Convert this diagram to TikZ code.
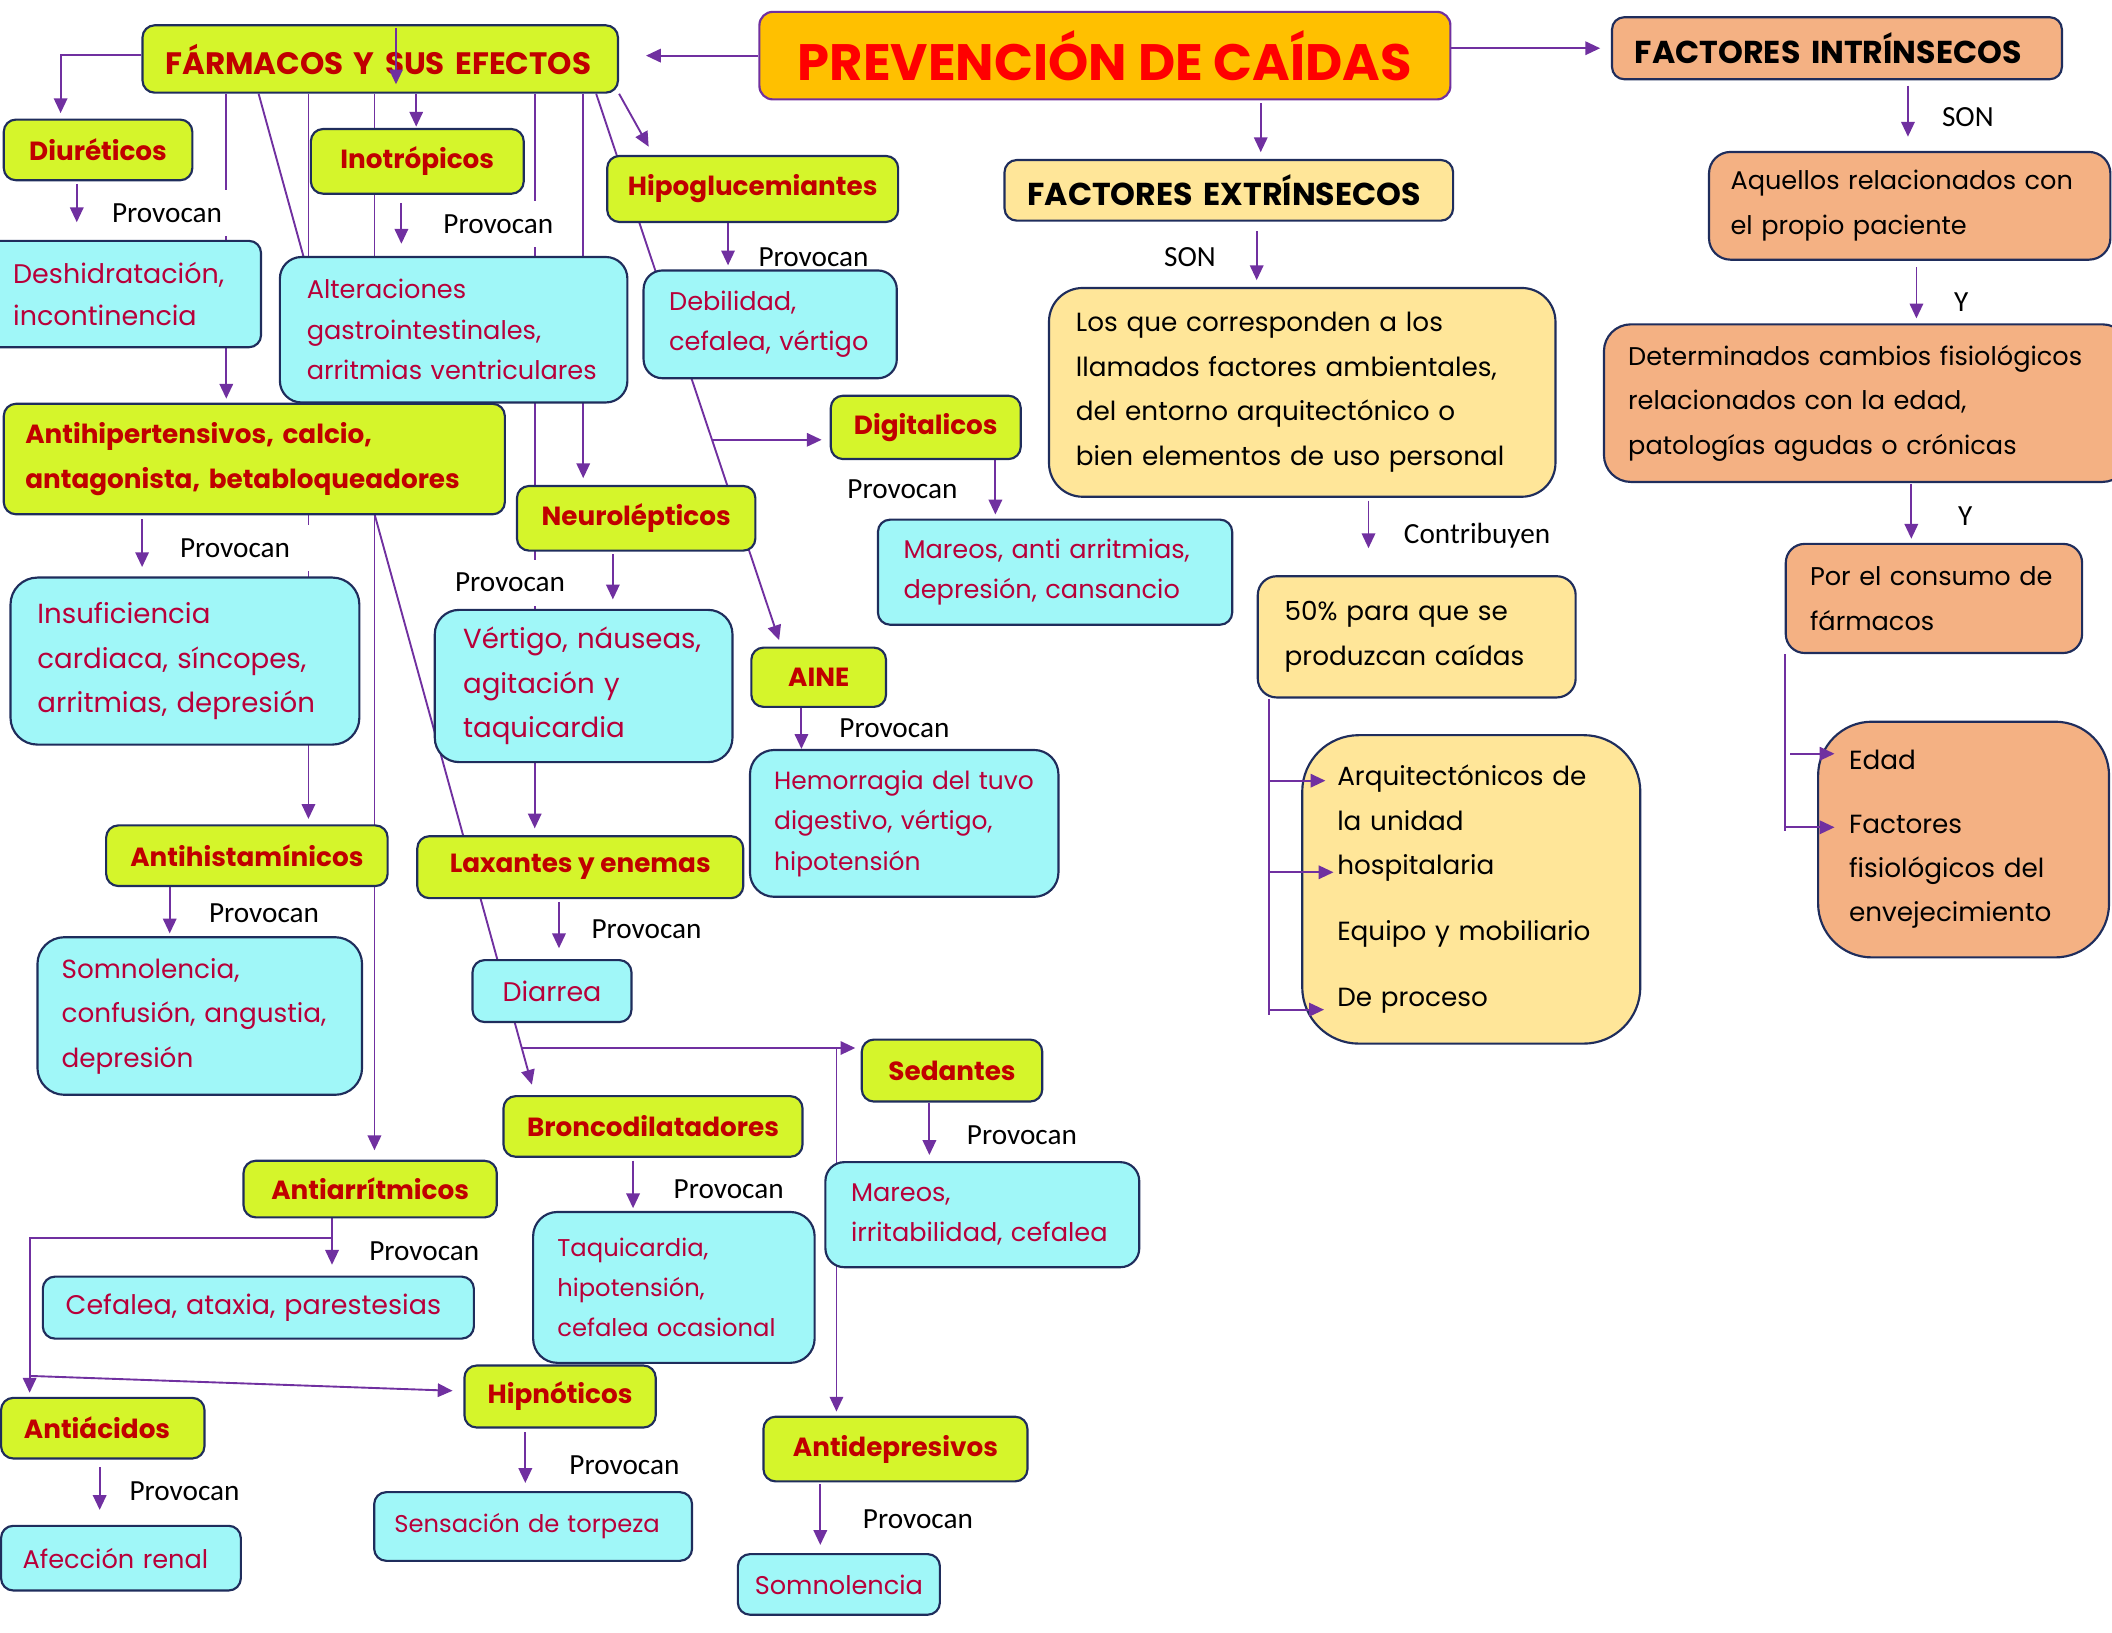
\documentclass[tikz,border=0pt]{standalone}
\usepackage{fontspec}
\newfontfamily\comic{Poppins}
\newfontfamily\calib{Carlito}
\usetikzlibrary{arrows.meta,backgrounds,calc}
\definecolor{morado}{HTML}{7030A0}
\definecolor{marino}{HTML}{1F2D5C}
\definecolor{verde}{HTML}{D5F52B}
\definecolor{cian}{HTML}{A0F7F8}
\definecolor{naranja}{HTML}{FFC000}
\definecolor{crema}{HTML}{FFE699}
\definecolor{salmon}{HTML}{F4B183}
\definecolor{granate}{HTML}{C00000}
\definecolor{carmin}{HTML}{B8003A}
\definecolor{titulo}{HTML}{FF0000}
\hyphenpenalty=10000

\begin{document}
\begin{tikzpicture}[x=1pt,y=-1pt,
  caja/.style={draw=marino,line width=1.6pt,rounded corners=9pt,anchor=north west,inner ysep=0pt},
  farmaco/.style={caja,fill=verde,text=granate,align=center,inner xsep=0pt,
    font=\comic\bfseries\fontsize{19.5}{33}\selectfont},
  efecto/.style={caja,fill=cian,text=carmin,align=left,font=\comic\fontsize{20}{31}\selectfont},
  extrin/.style={caja,fill=crema,align=left,font=\comic\fontsize{19.5}{33}\selectfont},
  intrin/.style={caja,fill=salmon,align=left,font=\comic\fontsize{19}{33}\selectfont},
  etiqueta/.style={fill=white,inner xsep=8pt,inner ysep=10pt,font=\calib\fontsize{21.7}{24}\selectfont},
  conector/.style={draw=morado,line width=1.4pt},
  flecha/.style={conector,-{Triangle[length=11pt,width=10pt]}}]
\useasboundingbox (0,0) rectangle (1568,1212);

% etiquetas de los conectores
\node[etiqueta] (pdiu) at (124,158) {Provocan};
\node[etiqueta] (pino) at (370,166.5) {Provocan};
\node[etiqueta] (phip) at (604,191) {Provocan};
\node[etiqueta,minimum width=112pt] (pant) at (174.5,407) {Provocan};
\node[etiqueta] (pneu) at (378.7,432.5) {Provocan};
\node[etiqueta] (pdig) at (670,363) {Provocan};
\node[etiqueta] (pain) at (664,541) {Provocan};
\node[etiqueta] (pahi) at (196,678) {Provocan};
\node[etiqueta] (plax) at (480,690) {Provocan};
\node[etiqueta] (psed) at (758.7,843) {Provocan};
\node[etiqueta] (pbro) at (541,883) {Provocan};
\node[etiqueta] (parr) at (315,928.6) {Provocan};
\node[etiqueta] (pacd) at (137,1107) {Provocan};
\node[etiqueta] (phpn) at (463.6,1088) {Provocan};
\node[etiqueta] (pdep) at (681.5,1128) {Provocan};
\node[etiqueta] (son1) at (883.5,190.6) {SON};
\node[etiqueta] (son2) at (1461,86.6) {SON};
\node[etiqueta] (y1) at (1456,224) {Y};
\node[etiqueta] (y2) at (1459,383) {Y};
\node[etiqueta] (contr) at (1096.6,398) {Contribuyen};

% cabeceras
\node[caja,draw=morado,fill=naranja,text=titulo,minimum width=513pt,minimum height=65pt,rounded corners=10pt,
  font=\comic\bfseries\fontsize{38}{42}\selectfont] (prev) at (563,8) {PREVENCIÓN DE CAÍDAS};
\node[farmaco,align=left,text width=319pt,inner xsep=17pt,minimum height=50pt,
  font=\comic\bfseries\fontsize{23}{30}\selectfont] (farm) at (105,18) {FÁRMACOS Y SUS EFECTOS};
\node[intrin,text width=300pt,inner xsep=17pt,minimum height=46pt,
  font=\comic\bfseries\fontsize{23.5}{30}\selectfont] (intr) at (1196,12) {FACTORES INTRÍNSECOS};
\node[extrin,text width=299pt,inner xsep=17pt,minimum height=45pt,
  font=\comic\bfseries\fontsize{23.5}{30}\selectfont] (extr) at (745,118) {FACTORES EXTRÍNSECOS};

% farmacos
\node[farmaco,minimum width=140pt,minimum height=45pt] (diur) at (2,88) {Diuréticos};
\node[farmaco,minimum width=158pt,minimum height=48pt] (inot) at (230,95) {Inotrópicos};
\node[farmaco,minimum width=216pt,minimum height=49pt] (hipo) at (450,115) {Hipoglucemiantes};
\node[farmaco,align=left,text width=340pt,inner xsep=16pt,minimum height=82pt] (antihip) at (2,299)
  {Antihipertensivos, calcio,\\antagonista, betabloqueadores};
\node[farmaco,minimum width=141pt,minimum height=47pt] (digi) at (616,293) {Digitalicos};
\node[farmaco,minimum width=177pt,minimum height=48pt] (neuro) at (383,360) {Neurolépticos};
\node[farmaco,minimum width=100pt,minimum height=44pt] (aine) at (557,480) {AINE};
\node[farmaco,minimum width=209pt,minimum height=45pt] (antihis) at (78,612) {Antihistamínicos};
\node[farmaco,minimum width=242pt,minimum height=46pt] (laxa) at (309,620) {Laxantes y enemas};
\node[farmaco,minimum width=134pt,minimum height=46pt] (seda) at (639,771) {Sedantes};
\node[farmaco,minimum width=222pt,minimum height=45pt] (bronc) at (373,813) {Broncodilatadores};
\node[farmaco,minimum width=188pt,minimum height=42pt] (antiarr) at (180,861) {Antiarrítmicos};
\node[farmaco,minimum width=142pt,minimum height=46pt] (hipn) at (344,1013) {Hipnóticos};
\node[farmaco,align=left,text width=117pt,inner xsep=17pt,minimum height=45pt] (antiac) at (0,1037) {Antiácidos};
\node[farmaco,minimum width=196pt,minimum height=48pt] (antidep) at (566,1051) {Antidepresivos};

% efectos
\node[efecto,text width=165pt,inner xsep=19pt,minimum height=79pt] (desh) at (-10,178)
  {Deshidratación,\\incontinencia};
\node[efecto,text width=218pt,inner xsep=20pt,minimum height=108pt,rounded corners=16pt,
  font=\comic\fontsize{19}{30}\selectfont] (alt) at (207,190)
  {Alteraciones\\gastrointestinales,\\arritmias ventriculares};
\node[efecto,text width=150pt,inner xsep=19pt,minimum height=80pt,rounded corners=14pt,
  font=\comic\fontsize{19}{30}\selectfont] (debi) at (477,200) {Debilidad,\\cefalea, vértigo};
\node[efecto,text width=225pt,inner xsep=19pt,minimum height=78pt,
  font=\comic\fontsize{19}{30}\selectfont] (mare) at (651,385) {Mareos, anti arritmias,\\depresión, cansancio};
\node[efecto,text width=219pt,inner xsep=20pt,minimum height=124pt,rounded corners=20pt,
  font=\comic\fontsize{20.5}{33}\selectfont] (insu) at (7,428)
  {Insuficiencia\\cardiaca, síncopes,\\arritmias, depresión};
\node[efecto,text width=179pt,inner xsep=21pt,minimum height=113pt,rounded corners=18pt,
  font=\comic\fontsize{20.5}{33}\selectfont] (vert) at (322,452) {Vértigo, náuseas,\\agitación y\\taquicardia};
\node[efecto,text width=193pt,inner xsep=18pt,minimum height=109pt,rounded corners=18pt,
  font=\comic\fontsize{18.5}{30}\selectfont] (hemo) at (556,556)
  {Hemorragia del tuvo\\digestivo, vértigo,\\hipotensión};
\node[efecto,text width=205pt,inner xsep=18pt,minimum height=117pt,rounded corners=20pt,
  font=\comic\fontsize{19.5}{33}\selectfont] (somn) at (27,695) {Somnolencia,\\confusión, angustia,\\depresión};
\node[efecto,align=center,inner xsep=0pt,minimum width=118pt,minimum height=46pt] (diar) at (350,712) {Diarrea};
\node[efecto,text width=195pt,inner xsep=19pt,minimum height=78pt,rounded corners=14pt,
  font=\comic\fontsize{19}{30}\selectfont] (mare2) at (612,862) {Mareos,\\irritabilidad, cefalea};
\node[efecto,text width=286pt,inner xsep=17pt,minimum height=46pt] (cefa) at (31,947) {Cefalea, ataxia, parestesias};
\node[efecto,text width=173pt,inner xsep=18pt,minimum height=112pt,rounded corners=18pt,
  font=\comic\fontsize{18}{30}\selectfont] (taqui) at (395,899) {Taquicardia,\\hipotensión,\\cefalea ocasional};
\node[efecto,text width=146pt,inner xsep=16pt,minimum height=48pt,
  font=\comic\fontsize{19}{30}\selectfont] (afec) at (0,1132) {Afección renal};
\node[efecto,text width=206pt,inner xsep=15pt,minimum height=51pt,
  font=\comic\fontsize{18}{30}\selectfont] (sens) at (277,1107) {Sensación de torpeza};
\node[efecto,align=center,inner xsep=0pt,minimum width=150pt,minimum height=45pt,
  font=\comic\fontsize{19}{30}\selectfont] (somn2) at (547,1153) {Somnolencia};

% factores
\node[extrin,text width=336pt,inner xsep=20pt,minimum height=155pt,rounded corners=25pt] (losq) at (778,213)
  {Los que corresponden a los\\llamados factores ambientales,\\del entorno arquitectónico o\\bien elementos de uso personal};
\node[extrin,text width=196pt,inner xsep=20pt,minimum height=90pt,rounded corners=14pt] (cinc) at (933,427)
  {50\% para que se\\produzcan caídas};
\node[extrin,text width=199pt,inner xsep=26pt,minimum height=229pt,rounded corners=42pt] (arqu) at (966,545)
  {Arquitectónicos de\\la unidad\\hospitalaria\\[16pt]Equipo y mobiliario\\[16pt]De proceso};
\node[intrin,text width=266pt,inner xsep=16pt,minimum height=80pt,rounded corners=16pt] (aque) at (1268,112)
  {Aquellos relacionados con\\el propio paciente};
\node[intrin,text width=354pt,inner xsep=18pt,minimum height=117pt,rounded corners=20pt] (dete) at (1190,240)
  {Determinados cambios fisiológicos\\relacionados con la edad,\\patologías agudas o crónicas};
\node[intrin,text width=184pt,inner xsep=18pt,minimum height=81pt,rounded corners=14pt] (pore) at (1325,403)
  {Por el consumo de\\fármacos};
\node[intrin,text width=170pt,inner xsep=23pt,minimum height=175pt,rounded corners=40pt,
  font=\comic\fontsize{19.5}{33}\selectfont] (edad) at (1349,535)
  {Edad\\[14pt]Factores\\fisiológicos del\\envejecimiento};

\begin{scope}[on background layer]
% desde farmacos
\draw[flecha,shorten >=4pt] ([yshift=3pt]farm.west) -| ([xshift=43pt]diur.north west);
\draw[flecha,shorten >=1pt] ([xshift=204pt]farm.south west) -- ([xshift=204pt]farm.south west |- inot.north);
\draw[flecha,shorten >=7pt] (farm.south east) -- ([xshift=35pt]hipo.north west);
\draw[flecha,shorten >=3pt] ([xshift=63pt]farm.south west) -- ([xshift=63pt]farm.south west |- antihip.north);
\draw[flecha,shorten >=4pt] ([xshift=124pt]farm.south west) -- ([xshift=124pt]farm.south west |- antihis.north);
\draw[flecha,shorten >=7pt] ([xshift=173pt]farm.south west) -- ([xshift=173pt]farm.south west |- antiarr.north);
\draw[flecha,shorten >=5pt] ([xshift=292pt]farm.south west) -- ([xshift=292pt]farm.south west |- laxa.north);
\draw[flecha,shorten >=5pt] ([xshift=328pt]farm.south west) -- ([xshift=328pt]farm.south west |- neuro.north);
\draw[flecha,shorten >=8pt] ([xshift=87pt]farm.south west) coordinate (da) -- ([xshift=24pt]bronc.north west) coordinate (db);
\draw[flecha,shorten >=5pt] ([xshift=-17pt]farm.south east) coordinate (dc) -- ([xshift=23pt]aine.north west) coordinate (dd);
\coordinate (dj) at ($(da)!0.953!(db)$);
\coordinate (dk) at ($(dc)!0.626!(dd)$);
\draw[flecha,shorten >=4pt] (dj) -- (dj -| seda.west);
\draw[flecha,shorten >=3pt] ([xshift=55pt]antidep.north west |- dj) -- ([xshift=55pt]antidep.north west);
\draw[flecha,shorten >=6pt] (dk) -- (dk -| digi.west);
% provocan
\draw[flecha,shorten <=2pt,shorten >=13pt] ([xshift=55pt]diur.south west) -- ([xshift=55pt]diur.south west |- desh.north);
\draw[flecha,shorten <=6pt,shorten >=9pt] ([xshift=68pt]inot.south west) -- ([xshift=68pt]inot.south west |- alt.north);
\draw[flecha,shorten >=3pt] ([xshift=90.5pt]hipo.south west) -- ([xshift=90.5pt]hipo.south west |- debi.north);
\draw[flecha,shorten <=3pt,shorten >=7pt] ([xshift=103.5pt]antihip.south west) -- ([xshift=103.5pt]antihip.south west |- insu.north);
\draw[flecha,shorten >=3pt] ([xshift=123pt]digi.south west) -- ([xshift=123pt]digi.south west |- mare.north);
\draw[flecha,shorten <=2pt,shorten >=7pt] ([xshift=72pt]neuro.south west) -- ([xshift=72pt]neuro.south west |- vert.north);
\draw[flecha] ([xshift=38pt]aine.south west) -- ([xshift=38pt]aine.south west |- hemo.north);
\draw[flecha,shorten >=2pt] ([xshift=48pt]antihis.south west) -- ([xshift=48pt]antihis.south west |- somn.north);
\draw[flecha,shorten <=2pt,shorten >=8pt] ([xshift=106pt]laxa.south west) -- ([xshift=106pt]laxa.south west |- diar.north);
\draw[flecha,shorten >=4.5pt] ([xshift=51pt]seda.south west) -- ([xshift=51pt]seda.south west |- mare2.north);
\draw[flecha,shorten <=2pt,shorten >=2pt] ([xshift=97pt]bronc.south west) -- ([xshift=97pt]bronc.south west |- taqui.north);
\draw[flecha,shorten >=8pt] ([xshift=66.5pt]antiarr.south west) -- ([xshift=66.5pt]antiarr.south west |- cefa.north);
\draw[flecha,shorten <=5.6pt,shorten >=11pt] ([xshift=74pt]antiac.south west) -- ([xshift=74pt]antiac.south west |- afec.north);
\draw[flecha,shorten <=2.6pt,shorten >=6pt] ([xshift=46pt]hipn.south west) -- ([xshift=46pt]hipn.south west |- sens.north);
\draw[flecha,shorten <=1pt,shorten >=6pt] ([xshift=43pt]antidep.south west) -- ([xshift=43pt]antidep.south west |- somn2.north);
\coordinate (aa) at ([xshift=66.5pt,yshift=-14.6pt]antiarr.south west);
\draw[flecha,shorten >=3pt] (aa) -| ([xshift=22pt]antiac.north west);
\coordinate (ab) at ([xshift=22pt,yshift=15.5pt]antiac.north west);
\draw[flecha,shorten >=8pt] (ab) -- ([yshift=4pt]hipn.west);
% titulo
\draw[flecha,shorten >=20pt] (prev.west) -- (prev.west -| farm.east);
\draw[flecha,shorten >=8pt] (prev.east |- intr.west) -- (intr.west);
\draw[flecha,shorten <=2pt,shorten >=5pt] ([xshift=373pt]prev.south west) -- ([xshift=373pt]prev.south west |- extr.north);
% extrinsecos
\draw[flecha,shorten <=7pt,shorten >=5pt] ([xshift=188pt]extr.south west) -- ([xshift=188pt]extr.south west |- losq.north);
\draw[flecha,shorten <=2pt,shorten >=20pt] ([xshift=238pt]losq.south west) -- ([xshift=238pt]losq.south west |- cinc.north);
\draw[conector] ([xshift=9pt]cinc.south west) -- ++(0,235);
% intrinsecos
\draw[flecha,shorten <=4pt,shorten >=10.5pt] ([xshift=220.5pt]intr.south west) -- ([xshift=220.5pt]intr.south west |- aque.north);
\draw[flecha,shorten <=4.7pt,shorten >=3.6pt] ([xshift=154.8pt]aque.south west) -- ([xshift=154.8pt]aque.south west |- dete.north);
\draw[flecha,shorten <=1pt,shorten >=3pt] ([xshift=229pt]dete.south west) -- ([xshift=229pt]dete.south west |- pore.north);
\draw[conector] (pore.south west) -- ++(0,131);
\end{scope}

% flechas por encima de las cajas
\draw[flecha,shorten <=3pt,shorten >=7pt] ([xshift=189pt]farm.north west) -- ([xshift=189pt]farm.south west);
\draw[flecha] ([xshift=9pt,yshift=-61pt]cinc.south west) -- ++(42,0);
\draw[flecha] ([xshift=9pt,yshift=-129pt]cinc.south west) -- ++(48,0);
\draw[flecha] ([xshift=9pt,yshift=-231pt]cinc.south west) -- ++(41,0);
\draw[flecha] ([xshift=4pt,yshift=-74pt]pore.south west) -- ++(33,0);
\draw[flecha] ([xshift=1pt,yshift=-128.6pt]pore.south west) -- ++(36,0);
\end{tikzpicture}
\end{document}
